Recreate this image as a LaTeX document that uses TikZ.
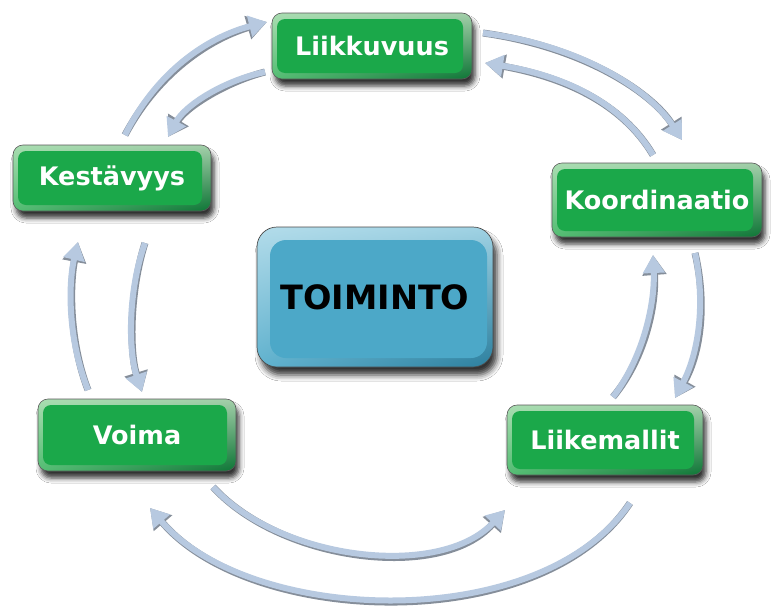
\documentclass[tikz,border=0pt]{standalone}
\usepackage{fontspec}
\setmainfont{DejaVu Sans}
\usetikzlibrary{arrows.meta,shadings,shadows.blur}

\definecolor{gface}{HTML}{1BA84A}
\definecolor{glight}{HTML}{A9DDB1}
\definecolor{gdark}{HTML}{0E7536}
\definecolor{bface}{HTML}{4CA8C8}
\definecolor{blight}{HTML}{B3DCEA}
\definecolor{bdark}{HTML}{2C7F9E}
\definecolor{arr}{HTML}{B7C9E0}
\definecolor{arrsh}{HTML}{858E9A}

\tikzset{
  gbox/.style={rounded corners=10pt, draw=black!65, line width=0.6pt,
    shade, upper left=glight, upper right=glight!85!gray, lower left=gface!60!glight, lower right=gdark,
    blur shadow={shadow xshift=3pt, shadow yshift=-7pt, shadow blur radius=5pt, shadow opacity=80},
    text=white, font=\bfseries\fontsize{25.5}{28}\selectfont, inner xsep=2pt,
    path picture={\fill[gface, rounded corners=8pt]
      ([shift={(5pt,-6pt)}]path picture bounding box.north west) rectangle
      ([shift={(-9pt,6pt)}]path picture bounding box.south east);}},
  bbox/.style={rounded corners=20pt, draw=black!70, line width=0.7pt,
    shade, upper left=blight, upper right=blight!80!bface, lower left=bface!80!blight, lower right=bdark,
    blur shadow={shadow xshift=4pt, shadow yshift=-8pt, shadow blur radius=6pt, shadow opacity=80},
    text=black, font=\bfseries\fontsize{33.5}{36}\selectfont,
    minimum width=236pt, minimum height=140pt,
    path picture={\fill[bface, rounded corners=16pt]
      ([shift={(13pt,-13pt)}]path picture bounding box.north west) rectangle
      ([shift={(-6pt,9pt)}]path picture bounding box.south east);}},
  arrsh/.style={draw=arrsh, line width=7pt, -{Triangle[width=23pt,length=20pt]}, shift={(1.5pt,-1.8pt)}},
  arrmain/.style={draw=arr, line width=6pt, -{Triangle[width=21pt,length=18pt]}}
}
\newcommand\myarrow[1]{\draw[arrsh] #1; \draw[arrmain] #1;}

\begin{document}
\begin{tikzpicture}[x=1pt,y=-1pt]
\fill[white] (0,0) rectangle (774,608);
\useasboundingbox (0,0) rectangle (774,608);

% nodes
\node[gbox, minimum width=200pt, minimum height=66pt] (liik) at (372,46) {Liikkuvuus};
\node[gbox, minimum width=198pt, minimum height=66pt] (kest) at (112,178) {Kestävyys};
\node[gbox, minimum width=210pt, minimum height=74pt] (koor) at (657,200) {Koordinaatio};
\node[gbox, minimum width=198pt, minimum height=72pt] (voim) at (137,435) {Voima};
\node[gbox, minimum width=196pt, minimum height=70pt] (liike) at (605,440) {Liikemallit};
\node[bbox] (toim) at (375,297) {TOIMINTO};

% arrow end points
\coordinate (k1) at (125,135);  \coordinate (l1) at (267,22);
\coordinate (l2) at (265,72);   \coordinate (k2) at (168,137);
\coordinate (l3) at (483,33);   \coordinate (o3) at (682,140);
\coordinate (o4) at (653,155);  \coordinate (l4) at (485,63);
\coordinate (o5) at (695,253);  \coordinate (m5) at (675,398);
\coordinate (m6) at (613,397);  \coordinate (o6) at (653,255);
\coordinate (k7) at (145,243);  \coordinate (v7) at (142,392);
\coordinate (v8) at (88,390);   \coordinate (k8) at (78,242);
\coordinate (v9) at (213,487);  \coordinate (m9) at (505,510);
\coordinate (m10) at (630,503); \coordinate (v10) at (150,508);

\myarrow{(k1) .. controls (160,65) and (215,35) .. (l1)}
\myarrow{(l2) .. controls (225,80) and (185,105) .. (k2)}
\myarrow{(l3) .. controls (580,45) and (650,90) .. (o3)}
\myarrow{(o4) .. controls (620,100) and (560,75) .. (l4)}
\myarrow{(o5) .. controls (705,300) and (700,350) .. (m5)}
\myarrow{(m6) .. controls (645,355) and (655,300) .. (o6)}
\myarrow{(k7) .. controls (128,290) and (128,350) .. (v7)}
\myarrow{(v8) .. controls (68,340) and (68,285) .. (k8)}
\myarrow{(v9) .. controls (280,560) and (440,580) .. (m9)}
\myarrow{(m10) .. controls (540,635) and (250,625) .. (v10)}
\end{tikzpicture}
\end{document}
